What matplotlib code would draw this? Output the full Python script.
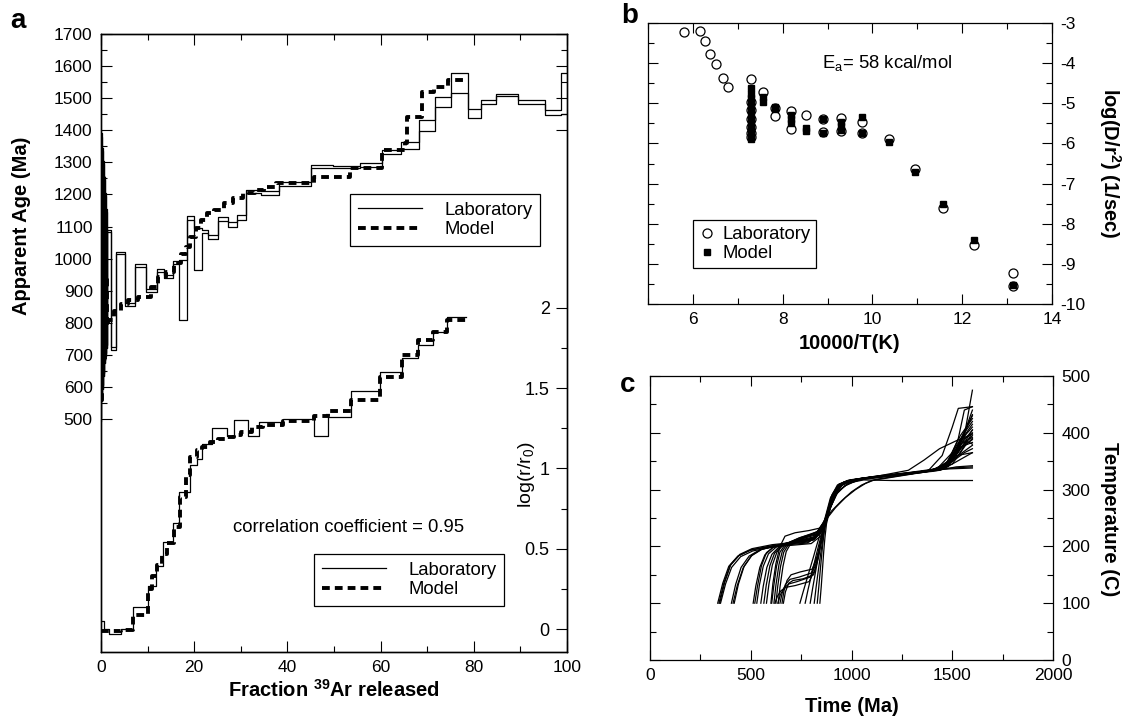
import matplotlib
matplotlib.use('Agg')
import matplotlib.pyplot as plt
from matplotlib.ticker import FixedLocator, MultipleLocator
from matplotlib.lines import Line2D

plt.rcParams['font.family'] = ['Liberation Sans', 'DejaVu Sans']
plt.rcParams['mathtext.fontset'] = 'custom'
plt.rcParams['mathtext.rm'] = 'Liberation Sans'
plt.rcParams['mathtext.it'] = 'Liberation Sans:italic'
plt.rcParams['mathtext.bf'] = 'Liberation Sans:bold'
plt.rcParams['axes.unicode_minus'] = False

# ---------------- panel a : age spectrum ----------------
lab_edges = [0, 0.1, 0.2, 0.3, 0.4, 0.5, 0.6, 0.7, 0.8, 0.9, 1.0, 1.1, 1.2, 1.3, 2.1, 3.3,
             5.1, 7.4, 9.6, 12.0, 13.6, 15.5, 16.8, 18.4, 20.0, 21.6, 22.9, 25.1, 27.3, 29.1,
             31.1, 34.4, 38.3, 45.1, 49.8, 55.5, 60.4, 64.4, 68.2, 71.6, 75.0, 78.7, 81.6,
             84.8, 89.4, 95.2, 98.8, 100]
lab_age = [500, 1385, 560, 1340, 600, 1300, 640, 1250, 680, 1200, 700, 1150, 725, 1086, 720,
           1018, 857, 978, 900, 962, 944, 988, 902, 1126, 1030, 1084, 1067, 1123, 1107, 1128,
           1209, 1204, 1233, 1287, 1285, 1292, 1333, 1352, 1415, 1488, 1548, 1452, 1489, 1510,
           1488, 1456, 1515]
lab_err = [5, 5, 5, 5, 5, 5, 5, 5, 5, 5, 5, 5, 5, 4, 4,
           4, 5, 4, 5, 5, 5, 6, 94, 6, 65, 5, 6, 7, 7, 7,
           5, 6, 7, 5, 4, 5, 7, 11, 17, 17, 31, 13, 6, 4,
           5, 7, 65]

model_edges = [0, 0.3, 0.6, 0.9, 1.2, 1.6, 2.8, 4.2, 5.8, 8.0, 10.8, 12.3, 14.0, 15.6, 17.2,
               18.2, 19.2, 20.3, 21.5, 22.8, 24.3, 26.5, 28.3, 30.5, 33.0, 35.0, 37.5, 45.8,
               53.4, 60.2, 65.2, 65.6, 68.8, 71.5, 74.5, 78.8]
model_age = [560, 1250, 680, 950, 790, 810, 838, 860, 871, 881, 910, 943, 959, 985, 1015,
             1037, 1068, 1094, 1120, 1142, 1151, 1172, 1190, 1204, 1215, 1223, 1236, 1254,
             1281, 1338, 1360, 1442, 1520, 1536, 1558]

# ---------------- panel a : log(r/r0) ----------------
lab_r_edges = [0, 0.7, 1.8, 4.3, 6.8, 10.0, 11.8, 13.2, 15.4, 16.8, 19.0, 20.6, 21.7, 23.8,
               27.0, 28.6, 31.5, 34.0, 39.0, 45.8, 48.7, 53.6, 59.8, 64.5, 68.0, 71.3, 74.3, 78.3]
lab_logr = [0.05, 0.0, -0.03, 0.0, 0.14, 0.27, 0.39, 0.54, 0.66, 0.85, 1.02, 1.06, 1.15,
            1.25, 1.20, 1.30, 1.20, 1.29, 1.31, 1.20, 1.32, 1.48, 1.60, 1.69, 1.77, 1.85, 1.94]
model_r_edges = [0, 1.8, 4.3, 6.8, 10.0, 11.0, 12.0, 13.0, 14.2, 15.6, 16.9, 18.2, 19.0, 20.6,
                 21.7, 23.3, 25.0, 27.0, 28.6, 30.0, 32.5, 34.7, 39.0, 45.8, 48.7, 53.6, 59.8,
                 64.5, 68.0, 71.3, 74.3, 78.3]
model_logr = [-0.01, -0.015, -0.005, 0.085, 0.25, 0.33, 0.40, 0.47, 0.535, 0.637, 0.824, 0.96,
              1.073, 1.115, 1.135, 1.166, 1.181, 1.198, 1.21, 1.229, 1.256, 1.27, 1.297, 1.328,
              1.357, 1.426, 1.567, 1.706, 1.80, 1.85, 1.924]

# ---------------- panel b : Arrhenius ----------------
lab_invT = [5.80, 6.15, 6.28, 6.39, 6.52, 6.66, 6.79, 7.29, 7.29, 7.29, 7.29, 7.29, 7.29, 7.29,
            7.56, 7.84, 7.84, 8.18, 8.18, 8.53, 8.90, 8.90, 9.31, 9.31, 9.77, 9.77, 10.37,
            10.94, 11.57, 12.26, 13.14, 13.14]
lab_logD = [-3.22, -3.19, -3.45, -3.76, -4.02, -4.37, -4.59, -4.39, -4.96, -5.17, -5.38, -5.59,
            -5.75, -5.85, -4.73, -5.12, -5.31, -5.20, -5.63, -5.28, -5.38, -5.71, -5.36, -5.70,
            -5.47, -5.74, -5.90, -6.63, -7.60, -8.52, -9.24, -9.55]
model_invT = [7.29, 7.29, 7.29, 7.29, 7.29, 7.29, 7.29, 7.29, 7.29, 7.29, 7.29, 7.56, 7.56,
              7.84, 7.84, 8.18, 8.18, 8.18, 8.53, 8.53, 8.90, 8.90, 9.31, 9.31, 9.31, 9.77,
              9.77, 10.37, 10.94, 11.57, 12.26, 13.14]
model_logD = [-4.63, -4.76, -4.88, -5.01, -5.13, -5.30, -5.42, -5.55, -5.67, -5.80, -5.88,
              -4.85, -4.97, -5.10, -5.15, -5.30, -5.40, -5.50, -5.62, -5.70, -5.38, -5.73,
              -5.47, -5.57, -5.67, -5.34, -5.74, -5.97, -6.71, -7.50, -8.41, -9.53]

# ---------------- panel c : thermal histories (time Ma, temperature C) ----------------
p01 = [(336,100),(361,135),(391,165),(436,183),(496,193),(596,200),(780,206),(835,220),(865,245),(895,285),(930,308),(980,316),(1100,322),(1350,330),(1450,338),(1530,370),(1600,395)]
p02 = [(342,100),(367,136),(397,166),(442,184),(502,194),(602,201),(790,208),(845,224),(875,255),(905,292),(940,310),(1000,317),(1150,324),(1400,333),(1480,350),(1550,390),(1600,410)]
p03 = [(350,100),(375,134),(405,163),(450,182),(510,192),(610,199),(800,205),(850,219),(880,250),(915,290),(955,309),(1020,317),(1200,325),(1420,335),(1500,365),(1560,400),(1600,420)]
p04 = [(346,100),(371,137),(401,168),(446,186),(506,196),(606,203),(790,210),(840,222),(870,248),(900,288),(935,309),(990,317),(1150,325),(1380,333),(1450,360),(1500,410),(1530,443),(1600,446)]
p05 = [(404,100),(425,133),(452,163),(492,183),(545,194),(640,202),(810,211),(855,227),(885,262),(920,298),(960,313),(1050,320),(1250,327),(1450,337),(1520,372),(1570,410),(1600,430)]
p06 = [(412,100),(433,131),(462,162),(502,183),(555,195),(660,204),(820,214),(860,232),(890,268),(930,302),(975,314),(1080,321),(1300,329),(1440,334),(1500,345),(1570,380),(1600,390)]
p07 = [(418,100),(439,134),(467,165),(507,185),(560,196),(680,206),(815,212),(858,230),(888,265),(925,300),(968,313),(1060,319),(1282,334),(1360,352),(1437,372),(1520,386),(1600,398)]
p08 = [(512,100),(525,130),(545,163),(570,185),(610,198),(700,206),(800,212),(850,226),(880,258),(915,296),(955,312),(1040,319),(1250,327),(1450,336),(1530,360),(1600,378)]
p09 = [(530,100),(543,132),(562,165),(588,187),(630,200),(720,208),(810,215),(855,230),(885,262),(920,298),(965,313),(1060,320),(1300,328),(1470,340),(1540,372),(1600,388)]
p10 = [(550,100),(562,130),(580,163),(605,186),(645,201),(730,210),(815,217),(860,235),(890,268),(925,302),(970,314),(1070,321),(1300,329),(1450,336),(1560,365),(1600,372)]
p11 = [(565,100),(577,132),(595,166),(618,188),(655,202),(740,212),(820,220),(862,238),(892,272),(928,303),(975,315),(1080,321),(1350,331),(1500,338),(1600,340)]
p12 = [(578,100),(590,133),(607,167),(630,190),(665,204),(745,214),(825,222),(865,240),(895,275),(932,305),(980,315),(1100,322),(1400,332),(1520,340),(1600,342)]
p13 = [(604,100),(614,130),(628,165),(645,190),(672,204),(740,215),(825,224),(865,242),(900,282),(940,308),(990,316),(1120,323),(1400,333),(1500,350),(1560,390),(1600,398)]
p14 = [(615,100),(625,132),(640,168),(657,192),(685,206),(750,216),(830,226),(868,245),(905,287),(945,309),(1000,317),(1150,324),(1400,334),(1480,346),(1570,385),(1600,380)]
p15 = [(625,100),(634,130),(648,165),(664,190),(690,205),(755,215),(830,225),(870,246),(910,290),(950,310),(1010,317),(1200,325),(1430,336),(1520,360),(1600,365)]
p16 = [(636,100),(645,128),(660,165),(676,191),(700,206),(760,214),(835,227),(872,250),(915,292),(955,311),(1020,318),(1200,326),(1450,338),(1540,375),(1600,383)]
p17 = [(620,100),(632,112),(650,122),(675,128),(720,131),(790,138),(820,160),(845,200),(865,232),(890,265),(925,298),(970,313),(1060,320),(1300,329),(1460,338),(1540,378),(1600,405)]
p18 = [(635,100),(647,115),(665,127),(690,134),(730,138),(795,146),(825,170),(848,208),(868,238),(895,272),(930,301),(975,314),(1080,321),(1320,330),(1470,339),(1550,390),(1600,432)]
p19 = [(645,100),(656,118),(672,133),(695,142),(740,146),(800,153),(828,178),(850,212),(870,242),(900,278),(935,303),(985,315),(1100,322),(1350,331),(1480,342),(1560,400),(1600,440)]
p20 = [(655,100),(665,122),(680,140),(700,150),(745,155),(805,160),(832,185),(852,215),(872,245),(905,284),(940,305),(995,316),(1110,323),(1380,332),(1470,345),(1540,395),(1600,425)]
p21 = [(662,100),(672,120),(688,135),(710,140),(760,143),(812,150),(836,180),(855,218),(875,250),(912,290),(950,308),(1010,317),(1150,324),(1400,334),(1490,350),(1570,400),(1600,415)]
p22 = [(744,100),(760,120),(785,150),(810,180),(830,205),(850,228),(870,245),(900,262),(950,280),(1000,296),(1050,308),(1100,316),(1400,333),(1500,345),(1600,365)]
p23 = [(770,100),(785,125),(805,155),(825,185),(843,210),(860,232),(880,250),(920,268),(970,286),(1020,300),(1070,311),(1120,318),(1450,336),(1600,338)]
p24 = [(795,100),(808,128),(823,158),(838,188),(852,214),(866,236),(885,260),(920,290),(965,306),(1020,315),(1070,320),(1250,327),(1450,337),(1530,360),(1600,400)]
p25 = [(815,100),(825,130),(837,162),(849,192),(860,218),(872,240),(892,266),(930,296),(980,310),(1040,317),(1300,329),(1480,340),(1560,395),(1600,475)]
p26 = [(843,100),(850,130),(856,160),(862,190),(868,215),(876,240),(895,268),(935,298),(990,312),(1060,317),(1200,316),(1600,316)]
p27 = [(830,100),(838,130),(846,162),(854,192),(862,218),(870,240),(888,262),(925,293),(975,309),(1040,318),(1300,328),(1470,340),(1530,390),(1560,440),(1600,446)]
p28 = [(520,100),(534,131),(553,166),(578,189),(620,201),(710,208),(805,214),(852,228),(882,260),(918,297),(962,313),(1050,320),(1280,328),(1460,337),(1530,365),(1600,405)]
p29 = [(600,100),(610,135),(625,170),(645,200),(670,218),(720,224),(790,228),(840,232),(870,245),(905,285),(945,309),(1000,317),(1200,325),(1450,336),(1540,380),(1600,392)]
tT_paths = [p01, p02, p03, p04, p05, p06, p07, p08, p09, p10, p11, p12, p13, p14, p15,
            p16, p17, p18, p19, p20, p21, p22, p23, p24, p25, p26, p27, p28, p29]

# ---------------- figure ----------------
W, H = 1126, 716
fig = plt.figure(figsize=(W / 100, H / 100), dpi=100)


def box(l, t, r, b):
    return [l / W, 1 - b / H, (r - l) / W, (b - t) / H]


TL = 12.5
LAB = 14.5

# ===== panel a =====
axa = fig.add_axes(box(101, 34, 567, 652))
axa.set_xlim(0, 100)
axa.set_ylim(-226, 1700)


def stepline(ax, edges, vals, **kw):
    ys = list(vals) + [vals[-1]]
    return ax.step(edges, ys, where='post', **kw)


up = [a + e for a, e in zip(lab_age, lab_err)]
lo = [a - e for a, e in zip(lab_age, lab_err)]
stepline(axa, lab_edges, up, color='k', lw=0.9)
stepline(axa, lab_edges, lo, color='k', lw=0.9)
stepline(axa, model_edges, model_age, color='k', lw=2.8, linestyle=(0, (2.0, 1.3)))

axa.yaxis.set_major_locator(FixedLocator(list(range(500, 1701, 100))))
axa.yaxis.set_minor_locator(FixedLocator(list(range(550, 1700, 100))))
axa.xaxis.set_major_locator(MultipleLocator(20))
axa.xaxis.set_minor_locator(MultipleLocator(10))
axa.tick_params(which='both', direction='in', top=True, right=False, labelsize=TL, width=0.8)
axa.tick_params(which='major', length=8)
axa.tick_params(which='minor', length=4.5)
axa.tick_params(axis='y', pad=6)
axa.tick_params(axis='x', pad=6)
axa.set_xlabel(r'Fraction $^{\mathbf{39}}$Ar released', fontsize=LAB, fontweight='bold')
axa.xaxis.set_label_coords(0.5, -0.062)
axa.xaxis.label.set_va('center')
axa.set_ylabel('Apparent Age (Ma)', fontsize=LAB, fontweight='bold', va='center')
axa.yaxis.set_label_coords(-0.170, 0.689)

leg_h = [Line2D([], [], color='k', lw=0.9),
         Line2D([], [], color='k', lw=2.8, linestyle=(0, (2.0, 1.3)))]
leg1 = axa.legend(leg_h, ['Laboratory', 'Model'], loc='upper left',
                  bbox_to_anchor=(350 / W, 1 - 194 / H), bbox_transform=fig.transFigure,
                  borderaxespad=0, fancybox=False, edgecolor='k', framealpha=1,
                  fontsize=13.3, handlelength=3.5, handletextpad=1.2, labelspacing=0.12,
                  borderpad=0.42)
leg1.get_frame().set_linewidth(0.9)

# mirrored age ticks on the right (upper part only)
ax3 = axa.twinx()
ax3.set_ylim(-226, 1700)
ax3.yaxis.set_major_locator(FixedLocator([1400, 1500, 1600, 1700]))
ax3.yaxis.set_minor_locator(FixedLocator([1450, 1550, 1650]))
ax3.tick_params(which='both', direction='in', labelright=False, width=0.8)
ax3.tick_params(which='major', length=8)
ax3.tick_params(which='minor', length=4.5)

# log(r/r0) on twin axis
ax2 = axa.twinx()
ax2.set_ylim(-0.143, 3.704)
stepline(ax2, lab_r_edges, lab_logr, color='k', lw=0.9)
stepline(ax2, model_r_edges, model_logr, color='k', lw=2.8, linestyle=(0, (2.0, 1.3)))
ax2.yaxis.set_major_locator(FixedLocator([0, 0.5, 1, 1.5, 2]))
ax2.yaxis.set_minor_locator(FixedLocator([0.25, 0.75, 1.25, 1.75]))
ax2.set_yticklabels(['0', '0.5', '1', '1.5', '2'])
ax2.tick_params(which='both', direction='in', labelsize=TL + 0.5, width=0.8, pad=-12.5)
ax2.tick_params(which='major', length=8)
ax2.tick_params(which='minor', length=4.5)
for t in ax2.get_yticklabels():
    t.set_horizontalalignment('right')
ax2.set_ylabel(r'log(r/r$_{\rm 0}$)', fontsize=14, rotation=90, va='center')
ax2.yaxis.set_label_coords(0.914, 0.287)
ax2.text((233 - 101) / 466, (652 - 527) / 618, 'correlation coefficient = 0.95',
         transform=ax2.transAxes, fontsize=13.3, ha='left', va='center')
leg2 = ax2.legend(leg_h, ['Laboratory', 'Model'], loc='upper left',
                  bbox_to_anchor=(314 / W, 1 - 554 / H), bbox_transform=fig.transFigure,
                  borderaxespad=0, fancybox=False, edgecolor='k', framealpha=1,
                  fontsize=13.3, handlelength=3.5, handletextpad=1.2, labelspacing=0.12,
                  borderpad=0.42)
leg2.get_frame().set_linewidth(0.9)

fig.text(10 / W, 1 - 28 / H, 'a', fontsize=20, fontweight='bold', va='baseline', ha='left')

# ===== panel b =====
axb = fig.add_axes(box(648, 23, 1052, 304))
axb.plot(lab_invT, lab_logD, 'o', ms=6.5, mfc='white', mec='k', mew=0.9,
         linestyle='none', label='Laboratory')
axb.plot(model_invT, model_logD, 's', ms=4.8, mfc='k', mec='k',
         linestyle='none', label='Model')
axb.set_xlim(5, 14)
axb.set_ylim(-10, -3)
axb.xaxis.set_major_locator(MultipleLocator(2))
axb.xaxis.set_minor_locator(MultipleLocator(1))
axb.yaxis.set_major_locator(MultipleLocator(1))
axb.yaxis.set_minor_locator(MultipleLocator(0.5))
axb.tick_params(which='both', direction='in', left=True, right=True, top=True, bottom=True,
                labelleft=False, labelright=True, labelsize=TL, width=0.8, pad=6)
axb.tick_params(which='major', length=7)
axb.tick_params(which='minor', length=4)
axb.set_xlabel('10000/T(K)', fontsize=LAB, fontweight='bold', va='center')
axb.xaxis.set_label_coords(0.5, -0.139)
axb.yaxis.set_label_position('right')
axb.set_ylabel(r'log(D/r$^{\mathbf{2}}$) (1/sec)', fontsize=LAB, fontweight='bold',
               rotation=270, va='center')
axb.yaxis.set_label_coords(1.144, 0.502)
axb.text((822 - 648) / 404, (304 - 63) / 281, r'E$_{\rm a}$= 58 kcal/mol',
         transform=axb.transAxes, fontsize=13.3, ha='left', va='center')
legb = axb.legend(loc='upper left', bbox_to_anchor=(693 / W, 1 - 220 / H),
                  bbox_transform=fig.transFigure, borderaxespad=0, fancybox=False,
                  edgecolor='k', framealpha=1, fontsize=13.3, handlelength=0.9,
                  handletextpad=0.35, labelspacing=0.12, borderpad=0.33)
legb.get_frame().set_linewidth(0.9)
fig.text(621 / W, 1 - 23 / H, 'b', fontsize=20, fontweight='bold', va='baseline', ha='left')

# ===== panel c =====
axc = fig.add_axes(box(650, 376, 1053, 660))
for path in tT_paths:
    ts = [p[0] for p in path]
    Ts = [p[1] for p in path]
    axc.plot(ts, Ts, color='k', lw=0.9)
axc.set_xlim(0, 2000)
axc.set_ylim(0, 500)
axc.xaxis.set_major_locator(MultipleLocator(500))
axc.xaxis.set_minor_locator(MultipleLocator(250))
axc.yaxis.set_major_locator(MultipleLocator(100))
axc.yaxis.set_minor_locator(MultipleLocator(50))
axc.tick_params(which='both', direction='in', left=True, right=True, top=True, bottom=True,
                labelleft=False, labelright=True, labelsize=TL, width=0.8, pad=6)
axc.tick_params(which='major', length=7)
axc.tick_params(which='minor', length=4)
axc.set_xlabel('Time (Ma)', fontsize=LAB, fontweight='bold', va='center')
axc.xaxis.set_label_coords(0.501, -0.165)
axc.yaxis.set_label_position('right')
axc.set_ylabel('Temperature (C)', fontsize=LAB, fontweight='bold', rotation=270, va='center')
axc.yaxis.set_label_coords(1.141, 0.496)
fig.text(620 / W, 1 - 392 / H, 'c', fontsize=20, fontweight='bold', va='baseline', ha='left')

for ax in (axa, ax2, ax3, axb, axc):
    for s in ax.spines.values():
        s.set_linewidth(0.9)

fig.savefig('out.png', dpi=100)
